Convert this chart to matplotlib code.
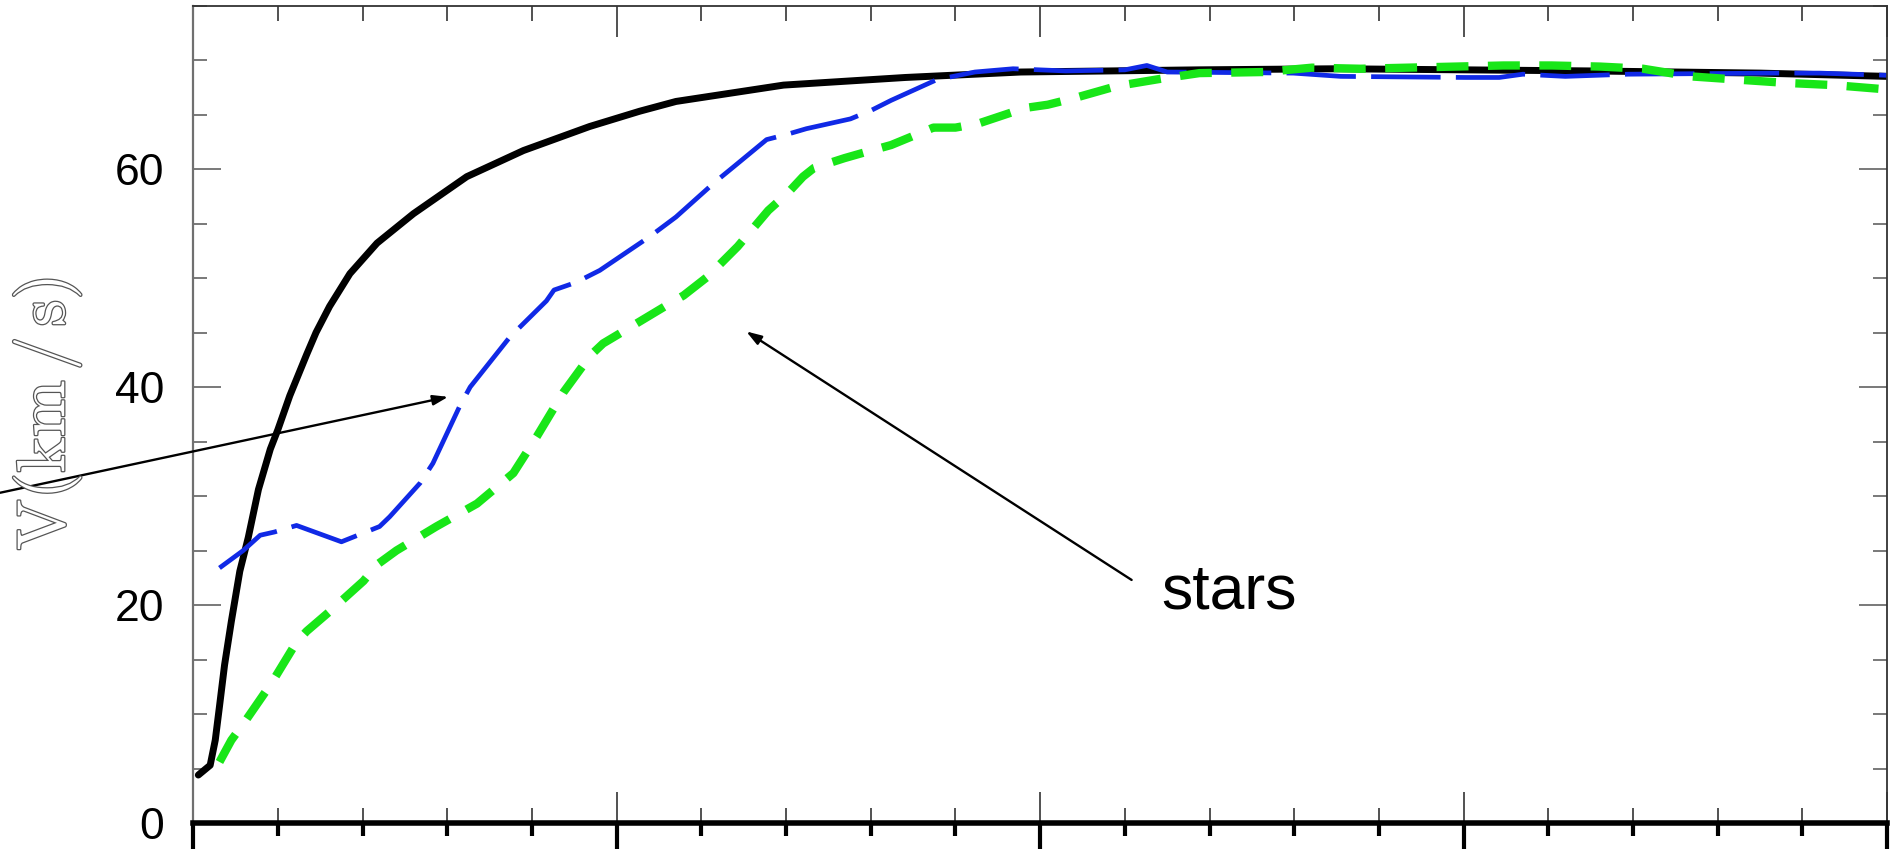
import numpy as np
import matplotlib
matplotlib.use("Agg")
import matplotlib.pyplot as plt
from matplotlib import patheffects

plt.rcParams['font.family'] = ['Liberation Sans', 'DejaVu Sans']
plt.rcParams['mathtext.fontset'] = 'cm'
plt.rcParams['lines.scale_dashes'] = False

# rotation curves, radius vs circular velocity (km/s)
r_total = [0.06, 0.20, 0.26, 0.31, 0.37, 0.45, 0.55, 0.65, 0.77, 0.91, 1.00, 1.14,
           1.34, 1.45, 1.61, 1.85, 2.17, 2.60, 3.23, 3.90, 4.68, 5.27, 5.70, 6.97,
           8.41, 9.77, 11.88, 13.5, 15.0, 16.5, 17.5, 18.5, 20.0]
v_total = [4.4, 5.3, 7.6, 10.7, 14.5, 18.5, 23.1, 26.2, 30.6, 34.3, 36.1, 39.2,
           43.0, 45.0, 47.4, 50.4, 53.2, 55.9, 59.3, 61.7, 63.9, 65.3, 66.2, 67.7,
           68.4, 68.9, 69.1, 69.2, 69.1, 69.0, 68.9, 68.8, 68.5]

r_gas = [0.31, 0.59, 0.79, 0.96, 1.22, 1.75, 2.20, 2.32, 2.68, 2.83, 3.15, 3.27,
         3.74, 4.17, 4.26, 4.52, 4.80, 5.39, 5.70, 6.16, 6.38, 6.77, 7.02, 7.24,
         7.76, 8.01, 8.24, 8.78, 9.23, 9.68, 10.3, 11.0, 11.26, 11.5, 12.99, 13.55,
         15.02, 15.42, 15.70, 16.2, 16.94, 18.64, 19.2, 20.0]
v_gas = [23.4, 25.0, 26.4, 26.7, 27.3, 25.8, 27.2, 28.1, 31.2, 33.0, 38.3, 40.0,
         44.6, 47.9, 48.9, 49.6, 50.7, 53.8, 55.6, 58.8, 60.2, 62.7, 63.2, 63.7,
         64.6, 65.4, 66.3, 68.2, 68.9, 69.2, 69.0, 69.1, 69.5, 68.9, 68.8, 68.5,
         68.4, 68.4, 68.7, 68.5, 68.7, 68.8, 68.8, 68.6]

r_stars = [0.31, 0.45, 0.61, 0.93, 1.22, 1.34, 1.61, 2.01, 2.17, 2.40, 2.87, 3.35,
           3.78, 4.06, 4.37, 4.69, 4.84, 5.12, 5.57, 5.79, 6.07, 6.43, 6.79, 7.02,
           7.20, 7.33, 7.69, 7.96, 8.24, 8.74, 9.00, 9.28, 9.55, 9.82, 10.09, 10.40,
           10.90, 11.13, 11.44, 11.88, 12.65, 13.21, 13.78, 14.34, 14.91, 15.47, 16.04,
           16.61, 17.12, 17.68, 18.24, 18.81, 19.37, 20.0]
v_stars = [5.6, 7.6, 9.3, 12.9, 16.6, 17.6, 19.4, 22.2, 23.7, 25.0, 27.2, 29.3,
           32.1, 35.5, 39.5, 42.9, 44.0, 45.3, 47.4, 48.4, 50.1, 52.9, 56.2, 57.8,
           59.3, 60.1, 61.0, 61.6, 62.2, 63.8, 63.8, 64.2, 64.9, 65.6, 65.9, 66.5,
           67.6, 67.9, 68.3, 68.8, 68.9, 69.3, 69.2, 69.3, 69.4, 69.5, 69.5,
           69.4, 69.2, 68.5, 68.2, 67.9, 67.7, 67.3]

y_ticks = [0, 20, 40, 60]
y_ticklabels = ['0', '20', '40', '60']

fig = plt.figure(figsize=(19, 8.51), dpi=100)
ax = fig.add_axes([0.1017, 0.0329, 0.8915, 0.9606])

ax.plot(r_total, v_total, color='black', lw=5, solid_capstyle='round',
        solid_joinstyle='round')
ax.plot(r_gas, v_gas, color='#1029e6', lw=3.4, dashes=(50, 11))
ax.plot(r_stars, v_stars, color='#18e618', lw=6, dashes=(23, 14))

ax.set_xlim(0, 20)
ax.set_ylim(0, 75)

# axes frame
ax.spines['bottom'].set_linewidth(4)
ax.spines['bottom'].set_color('black')
ax.spines['left'].set_linewidth(1.6)
ax.spines['left'].set_color('#707070')
ax.spines['top'].set_linewidth(1.3)
ax.spines['top'].set_color('#333333')
ax.spines['right'].set_linewidth(1.3)
ax.spines['right'].set_color('#333333')

ax.set_xticks(np.arange(0, 21, 5))
ax.set_xticks(np.arange(0, 21, 1), minor=True)
ax.set_yticks(y_ticks)
ax.set_yticklabels(y_ticklabels)
ax.set_yticks(np.arange(0, 76, 5), minor=True)

ax.tick_params(axis='x', which='both', direction='in', top=True, bottom=True,
               labelbottom=False, color='#222222', width=1.1)
ax.tick_params(axis='x', which='major', length=22)
ax.tick_params(axis='x', which='minor', length=11)
ax.tick_params(axis='y', which='both', direction='in', left=True, right=True,
               color='#555555', width=1.1, labelsize=32, pad=21)
ax.tick_params(axis='y', which='major', length=20)
ax.tick_params(axis='y', which='minor', length=10)

# heavy ticks hanging below the x axis
sec = ax.secondary_xaxis('bottom')
sec.set_xticks(np.arange(0, 21, 5))
sec.set_xticks(np.arange(0, 21, 1), minor=True)
sec.tick_params(axis='x', which='both', direction='out', width=3, color='black',
                labelbottom=False)
sec.tick_params(axis='x', which='major', length=19)
sec.tick_params(axis='x', which='minor', length=9.5)
sec.spines['bottom'].set_visible(False)

# arrows
arrow = dict(arrowstyle='-|>,head_length=0.45,head_width=0.15', mutation_scale=20,
             color='black', lw=1.7, shrinkA=0, shrinkB=0)
ax.annotate('', xy=(3.01, 39.1), xytext=(-2.28, 30.3), arrowprops=arrow,
            annotation_clip=False)
ax.annotate('', xy=(6.53, 45.1), xytext=(11.08, 22.3), arrowprops=arrow)
ax.text(11.43, 19.7, 'stars', fontsize=45, ha='left', va='baseline')

ylab = fig.text(46.7 / 1900, 1 - 414 / 851, r'$\mathrm{V(km\,/\,s)}$', rotation=90,
                ha='center', va='center', fontsize=49, color='white')
ylab.set_path_effects([patheffects.withStroke(linewidth=1.8, foreground='#555555')])

plt.savefig('out.png', dpi=100)
